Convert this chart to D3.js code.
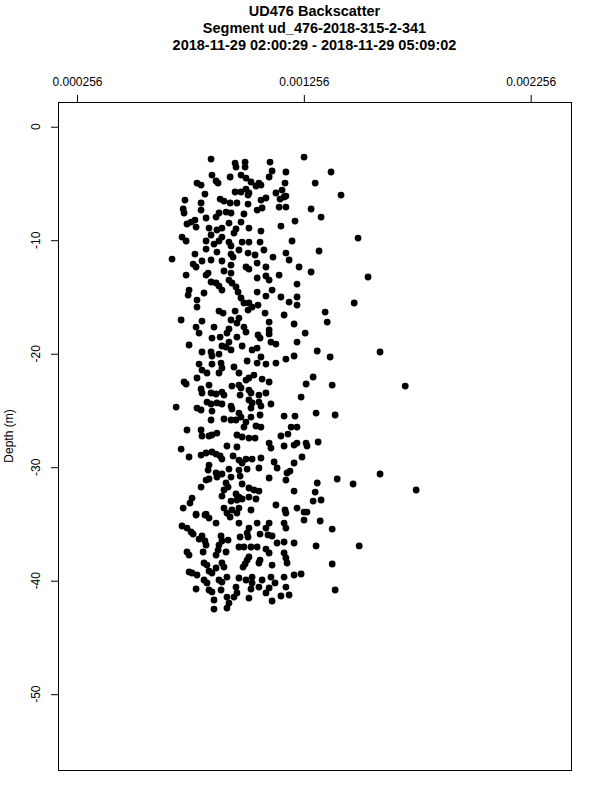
<!DOCTYPE html>
<html>
<head>
<meta charset="utf-8">
<script src="https://cdn.jsdelivr.net/npm/d3@7"></script>
<style>
  body { margin: 0; background: #fff; }
  svg { display: block; }
  text { font-family: "Liberation Sans", Arial, sans-serif; fill: #000; }
</style>
</head>
<body>
<div class="chart"></div>
<script>
// title, axis setup
var titleLines = [
  "UD476 Backscatter",
  "Segment ud_476-2018-315-2-341",
  "2018-11-29 02:00:29 - 2018-11-29 05:09:02"
];
var yAxisTitle = "Depth (m)";
var xTicks = [0.000256, 0.001256, 0.002256];
var xTickLabels = ["0.000256", "0.001256", "0.002256"];
var yTicks = [0, -10, -20, -30, -40, -50];
var yTickLabels = ["0", "-10", "-20", "-30", "-40", "-50"];
var xLimits = [0.000256, 0.00235];
var yLimits = [-54.5, 0];

// backscatter of each sample
var backscatter = [
  0.000847, 0.000953, 0.000957, 0.000997, 0.000997, 0.001107, 0.000851, 0.000931, 0.000979, 0.001001,
  0.001023, 0.001058, 0.001103, 0.001116, 0.001177, 0.001173, 0.000869, 0.000878, 0.000785, 0.000803,
  0.000820, 0.000953, 0.000979, 0.001001, 0.001014, 0.001045, 0.001067, 0.001160, 0.001177, 0.001010,
  0.000732, 0.000803, 0.000887, 0.000904, 0.000931, 0.000961, 0.001010, 0.001067, 0.001089, 0.001133,
  0.001151, 0.001169, 0.001050, 0.001072, 0.001147, 0.001177, 0.000913, 0.000935, 0.000724, 0.000728,
  0.000803, 0.000882, 0.000992, 0.000825, 0.000776, 0.000759, 0.000869, 0.000926, 0.000979, 0.001217,
  0.001155, 0.000741, 0.000781, 0.000838, 0.000873, 0.000895, 0.000957, 0.001014, 0.001067, 0.000719,
  0.000737, 0.000847, 0.000895, 0.000948, 0.000825, 0.000882, 0.000926, 0.000984, 0.001014, 0.001063,
  0.001204, 0.001257, 0.001376, 0.001306, 0.001420, 0.001288, 0.001332, 0.001495, 0.000860, 0.000935,
  0.000675, 0.000776, 0.000825, 0.000873, 0.000935, 0.000944, 0.000970, 0.001010, 0.001041, 0.001080,
  0.001177, 0.001120, 0.001191, 0.000768, 0.000781, 0.000807, 0.000847, 0.000895, 0.000935, 0.001001,
  0.001014, 0.001050, 0.001089, 0.000737, 0.000825, 0.000834, 0.000904, 0.000935, 0.000847, 0.000869,
  0.000882, 0.000926, 0.000939, 0.000957, 0.000895, 0.001050, 0.001089, 0.001103, 0.001147, 0.001226,
  0.000750, 0.000746, 0.000816, 0.000785, 0.000785, 0.000966, 0.000979, 0.000992, 0.001014, 0.001028,
  0.001010, 0.001050, 0.001116, 0.001089, 0.001155, 0.001191, 0.001226, 0.001054, 0.001085, 0.000882,
  0.000900, 0.000953, 0.000970, 0.000961, 0.000715, 0.000807, 0.000781, 0.000860, 0.000935, 0.000926,
  0.000992, 0.001103, 0.001169, 0.001103, 0.000794, 0.001323, 0.001235, 0.001288, 0.001539, 0.001226,
  0.001478, 0.001350, 0.001359, 0.001213, 0.001262, 0.000851, 0.000887, 0.000917, 0.000926, 0.000895,
  0.000913, 0.000961, 0.001001, 0.001054, 0.001063, 0.001103, 0.001111, 0.001133, 0.000750, 0.000807,
  0.000847, 0.000851, 0.000882, 0.000935, 0.000984, 0.001028, 0.001050, 0.001067, 0.001177, 0.001213,
  0.001226, 0.000794, 0.000807, 0.000851, 0.000891, 0.000895, 0.000882, 0.000948, 0.000970, 0.001006,
  0.001050, 0.001089, 0.001133, 0.000829, 0.000728, 0.000737, 0.000785, 0.000970, 0.001001, 0.001014,
  0.001036, 0.001072, 0.001103, 0.000838, 0.000803, 0.000807, 0.000939, 0.000979, 0.000975, 0.001014,
  0.001023, 0.000847, 0.000869, 0.000895, 0.000904, 0.001058, 0.001089, 0.000693, 0.000829, 0.000847,
  0.000873, 0.000895, 0.000935, 0.000939, 0.001014, 0.001028, 0.001023, 0.001058, 0.001067, 0.001111,
  0.000785, 0.000803, 0.000851, 0.000970, 0.000979, 0.001023, 0.001063, 0.000957, 0.000935, 0.000904,
  0.000847, 0.001001, 0.001169, 0.001217, 0.001315, 0.001372, 0.001592, 0.001297, 0.001266, 0.001381,
  0.001703, 0.001244, 0.001310, 0.001394, 0.001045, 0.001067, 0.000992, 0.000741, 0.000803, 0.000807,
  0.000838, 0.000851, 0.000873, 0.000961, 0.000984, 0.001014, 0.001041, 0.001200, 0.001155, 0.001186,
  0.000715, 0.000917, 0.000961, 0.001103, 0.001111, 0.001169, 0.001213, 0.000750, 0.000803, 0.000825,
  0.000851, 0.000869, 0.000887, 0.000895, 0.000944, 0.000970, 0.000984, 0.001001, 0.001028, 0.001067,
  0.001125, 0.001138, 0.001195, 0.001182, 0.001213, 0.001058, 0.000838, 0.000834, 0.000869, 0.000895,
  0.000926, 0.000970, 0.000975, 0.001006, 0.000935, 0.000825, 0.000838, 0.000873, 0.001103, 0.001177,
  0.000803, 0.000913, 0.000922, 0.000904, 0.000984, 0.001014, 0.001036, 0.001058, 0.001213, 0.000895,
  0.000957, 0.000970, 0.000984, 0.000961, 0.001014, 0.001045, 0.000935, 0.000763, 0.000754, 0.000724,
  0.000781, 0.000825, 0.000904, 0.000939, 0.000970, 0.001023, 0.001133, 0.001173, 0.001226, 0.001226,
  0.001226, 0.001266, 0.001270, 0.001319, 0.001248, 0.001403, 0.001592, 0.001473, 0.001751, 0.001315,
  0.001306, 0.001297, 0.001332, 0.001257, 0.001270, 0.000781, 0.000820, 0.000838, 0.000917, 0.000931,
  0.000961, 0.000970, 0.001177, 0.000869, 0.000719, 0.000741, 0.000759, 0.000768, 0.001014, 0.001006,
  0.001010, 0.001050, 0.001103, 0.001089, 0.001098, 0.001063, 0.001169, 0.001177, 0.000807, 0.000820,
  0.000825, 0.000794, 0.000891, 0.000895, 0.000882, 0.000878, 0.000922, 0.000975, 0.001116, 0.001138,
  0.001169, 0.000970, 0.000992, 0.001023, 0.001050, 0.001089, 0.000741, 0.000750, 0.000812, 0.000869,
  0.000913, 0.001103, 0.001169, 0.001177, 0.001182, 0.001014, 0.001006, 0.000997, 0.000988, 0.001063,
  0.001058, 0.001116, 0.000816, 0.000829, 0.000895, 0.000904, 0.000750, 0.000763, 0.000785, 0.000838,
  0.000851, 0.000869, 0.000816, 0.000829, 0.000882, 0.000895, 0.000917, 0.000970, 0.001001, 0.001028,
  0.001028, 0.001072, 0.001111, 0.001169, 0.001129, 0.001213, 0.000781, 0.000838, 0.000851, 0.000891,
  0.000957, 0.000961, 0.000948, 0.001023, 0.001058, 0.001089, 0.001103, 0.001155, 0.001177, 0.001191,
  0.000917, 0.000926, 0.000917, 0.000860, 0.001014, 0.001116, 0.000860, 0.001257, 0.001328, 0.001381,
  0.001213, 0.001310, 0.001500, 0.001381, 0.001244, 0.001394
];

// depth (m) of each sample, same order as backscatter
var depth = [
  -2.85, -3.20, -3.55, -3.11, -3.55, -3.11, -4.26, -4.43, -4.26, -4.52,
  -4.87, -4.96, -4.43, -3.90, -3.99, -4.96, -4.78, -4.96, -4.96, -5.14,
  -5.93, -5.75, -5.75, -5.49, -5.84, -5.22, -5.14, -5.58, -6.11, -6.02,
  -6.46, -6.72, -6.37, -6.55, -6.72, -6.72, -6.81, -6.46, -6.28, -5.84,
  -6.37, -6.19, -7.34, -7.16, -7.08, -7.08, -7.52, -7.60, -7.25, -7.60,
  -7.34, -7.60, -7.69, -8.04, -8.22, -8.40, -7.96, -8.49, -8.40, -8.31,
  -8.75, -8.57, -8.84, -8.93, -9.10, -8.93, -9.01, -8.93, -9.19, -9.72,
  -10.07, -9.54, -9.72, -9.37, -10.07, -10.07, -10.16, -10.16, -10.16, -10.16,
  -10.07, -2.67, -3.99, -4.96, -6.02, -7.25, -7.96, -9.81, -10.34, -10.51,
  -11.66, -11.22, -10.78, -11.04, -11.22, -11.48, -10.86, -11.13, -11.30, -10.86,
  -11.13, -11.48, -11.74, -12.10, -12.36, -11.83, -11.74, -11.83, -12.19, -12.36,
  -12.54, -12.01, -12.36, -13.07, -13.07, -12.89, -12.71, -12.89, -13.68, -13.77,
  -14.04, -13.51, -13.77, -14.12, -14.39, -13.33, -13.15, -13.51, -13.07, -13.86,
  -14.39, -14.83, -14.65, -15.27, -15.89, -14.57, -15.09, -15.53, -15.53, -15.89,
  -16.15, -14.57, -14.39, -14.92, -15.00, -15.45, -15.00, -15.71, -16.42, -16.24,
  -16.42, -16.24, -16.86, -17.30, -17.03, -17.12, -17.65, -17.65, -17.03, -17.82,
  -17.65, -17.21, -16.59, -17.91, -18.18, -10.95, -12.36, -12.80, -13.24, -15.71,
  -15.53, -16.33, -17.21, -17.38, -18.18, -18.62, -18.53, -18.18, -18.97, -19.32,
  -19.41, -18.53, -18.09, -18.35, -18.62, -18.26, -18.97, -19.15, -19.23, -19.85,
  -19.85, -20.20, -20.03, -19.67, -19.32, -19.67, -19.50, -20.29, -20.47, -20.20,
  -18.97, -20.91, -21.44, -20.91, -20.82, -21.26, -21.70, -21.17, -21.70, -20.64,
  -20.82, -20.91, -20.82, -21.70, -22.49, -22.67, -22.14, -22.76, -22.32, -22.14,
  -21.88, -22.23, -22.49, -22.76, -23.11, -23.46, -22.85, -23.02, -23.64, -23.20,
  -23.46, -23.46, -23.55, -23.38, -23.64, -23.64, -23.46, -24.70, -24.26, -24.43,
  -24.34, -24.43, -24.61, -24.87, -24.08, -24.34, -24.79, -24.26, -24.61, -24.43,
  -24.79, -24.96, -25.05, -25.23, -25.58, -25.58, -25.40, -25.84, -25.84, -25.75,
  -25.84, -26.02, -25.49, -25.49, -19.76, -20.29, -19.85, -22.05, -22.67, -22.76,
  -22.85, -23.82, -25.23, -25.40, -26.37, -26.46, -26.46, -26.72, -26.72, -27.25,
  -27.25, -27.16, -26.99, -27.16, -27.34, -27.43, -27.43, -26.46, -27.25, -27.08,
  -28.40, -28.13, -28.22, -27.87, -28.31, -28.13, -28.05, -29.10, -28.93, -28.75,
  -28.66, -28.84, -29.01, -29.28, -29.01, -29.37, -29.63, -29.28, -29.28, -29.19,
  -29.54, -30.07, -30.34, -30.51, -29.63, -30.07, -29.81, -30.25, -30.51, -30.60,
  -30.16, -30.25, -30.78, -30.16, -30.87, -31.13, -31.04, -30.87, -30.95, -31.13,
  -31.75, -31.39, -31.75, -32.01, -31.48, -31.83, -32.01, -32.10, -32.10, -32.54,
  -32.36, -32.63, -32.80, -32.89, -32.63, -32.80, -32.98, -32.72, -33.16, -33.60,
  -34.13, -34.13, -33.60, -33.77, -33.60, -33.77, -33.33, -33.77, -33.60, -26.46,
  -27.87, -27.87, -28.13, -27.78, -29.10, -31.04, -30.60, -31.48, -32.01, -31.39,
  -32.19, -32.98, -32.89, -33.95, -33.95, -34.21, -34.21, -34.48, -34.04, -34.39,
  -34.04, -34.92, -34.04, -34.92, -35.18, -35.36, -35.71, -35.89, -35.36, -35.80,
  -36.15, -34.92, -34.92, -35.36, -35.97, -35.89, -34.92, -35.36, -36.06, -36.50,
  -36.86, -36.33, -36.06, -36.50, -36.86, -37.30, -36.42, -36.15, -36.06, -36.68,
  -36.59, -37.03, -37.03, -37.03, -37.03, -37.21, -37.47, -37.74, -37.47, -37.74,
  -37.47, -37.56, -37.56, -38.00, -38.44, -37.91, -38.18, -38.53, -38.80, -38.18,
  -38.44, -38.62, -38.44, -38.62, -38.44, -38.80, -39.23, -39.32, -39.50, -39.15,
  -39.32, -38.88, -39.94, -40.20, -39.94, -40.12, -39.68, -39.76, -39.94, -40.20,
  -39.68, -39.94, -39.68, -39.68, -40.20, -39.50, -40.73, -40.82, -40.99, -40.82,
  -40.56, -41.08, -41.44, -40.73, -40.56, -41.08, -40.64, -41.35, -40.56, -41.26,
  -41.44, -41.97, -42.41, -41.70, -41.53, -41.79, -42.50, -34.66, -34.74, -35.45,
  -36.68, -36.94, -36.94, -38.53, -39.41, -40.82
];

var svgWidth = 600;
var svgHeight = 800;
var margin = { top: 102, right: 29, bottom: 30, left: 58 };
var width = svgWidth - margin.left - margin.right;
var height = svgHeight - margin.top - margin.bottom;

var svg = d3.select(".chart")
  .append("svg")
  .attr("width", svgWidth)
  .attr("height", svgHeight);

// R-style 4% padding on both axes
var xPad = (xLimits[1] - xLimits[0]) * 0.04;
var yPad = (yLimits[1] - yLimits[0]) * 0.04;

var xScale = d3.scaleLinear()
  .domain([xLimits[0] - xPad, xLimits[1] + xPad])
  .range([0, width]);

var yScale = d3.scaleLinear()
  .domain([yLimits[0] - yPad, yLimits[1] + yPad])
  .range([height, 0]);

var chartGroup = svg.append("g")
  .attr("transform", `translate(${margin.left}, ${margin.top})`);

// title
svg.append("g").selectAll("text")
  .data(titleLines)
  .enter()
  .append("text")
  .attr("x", margin.left + width / 2)
  .attr("y", (d, i) => 16 + i * 17)
  .attr("text-anchor", "middle")
  .attr("font-size", "14.5px")
  .attr("font-weight", "bold")
  .text(d => d);

// top axis
var xAxis = d3.axisTop(xScale)
  .tickValues(xTicks)
  .tickFormat((d, i) => xTickLabels[i])
  .tickSize(7)
  .tickPadding(9);

var xAxisGroup = chartGroup.append("g").call(xAxis);
xAxisGroup.select(".domain").remove();
xAxisGroup.selectAll("text")
  .attr("font-size", "12px")
  .attr("font-family", "Liberation Sans, Arial, sans-serif");
xAxisGroup.selectAll("line").attr("stroke", "#000");

// left axis, labels turned like R's las=0
var yAxis = d3.axisLeft(yScale)
  .tickValues(yTicks)
  .tickFormat("")
  .tickSize(7);

var yAxisGroup = chartGroup.append("g").call(yAxis);
yAxisGroup.select(".domain").remove();
yAxisGroup.selectAll("line").attr("stroke", "#000");

chartGroup.append("g").selectAll("text")
  .data(yTicks)
  .enter()
  .append("text")
  .attr("transform", d => `translate(-18, ${yScale(d)}) rotate(-90)`)
  .attr("text-anchor", "middle")
  .attr("font-size", "12px")
  .text((d, i) => yTickLabels[i]);

svg.append("text")
  .attr("transform", `translate(13, ${margin.top + height / 2}) rotate(-90)`)
  .attr("text-anchor", "middle")
  .attr("font-size", "12px")
  .text(yAxisTitle);

// points
var samples = backscatter.map((b, i) => ({ b: b, d: depth[i] }));

chartGroup.append("g").selectAll("circle")
  .data(samples)
  .enter()
  .append("circle")
  .attr("cx", d => xScale(d.b))
  .attr("cy", d => yScale(d.d))
  .attr("r", 3.4)
  .attr("fill", "#000");

// plot box
chartGroup.append("rect")
  .attr("x", 0.5)
  .attr("y", 0.5)
  .attr("width", width)
  .attr("height", height)
  .attr("fill", "none")
  .attr("stroke", "#000")
  .attr("stroke-width", 1);
</script>
</body>
</html>
